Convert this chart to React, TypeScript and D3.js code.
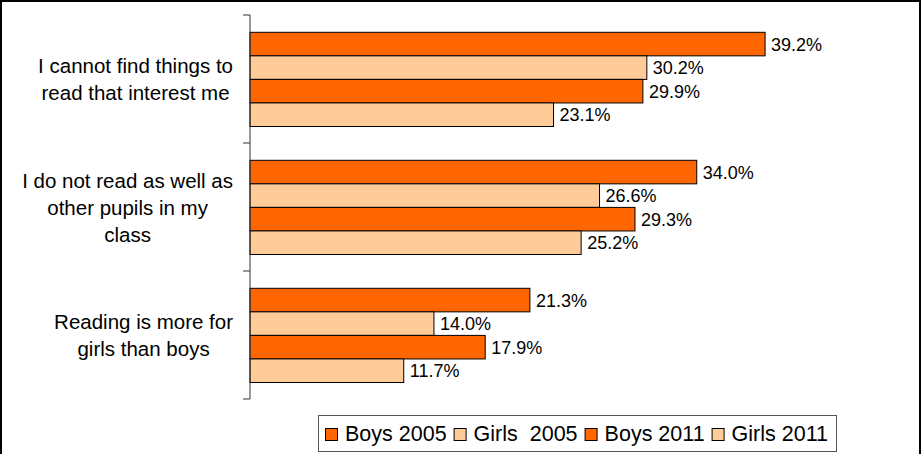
import React, { useEffect, useRef } from 'react';
import * as d3 from 'd3';

const categories = [
  ['I cannot find things to', 'read that interest me'],
  ['I do not read as well as', 'other pupils in my', 'class'],
  ['Reading is more for', 'girls than boys'],
];
const seriesNames = ['Boys 2005', 'Girls  2005', 'Boys 2011', 'Girls 2011'];
const seriesColors = ['#FF6600', '#FFCC99', '#FF6600', '#FFCC99'];
const boys2005 = [39.2, 34.0, 21.3];
const girls2005 = [30.2, 26.6, 14.0];
const boys2011 = [29.9, 29.3, 17.9];
const girls2011 = [23.1, 25.2, 11.7];

const FONT = '"Liberation Sans", Arial, Helvetica, sans-serif';

const App: React.FC = () => {
  const svgRef = useRef<SVGSVGElement>(null);

  useEffect(() => {
    if (!svgRef.current) return;
    const svg = d3.select(svgRef.current);
    svg.selectAll('*').remove();

    const width = 924;
    const height = 454;
    const values = [boys2005, girls2005, boys2011, girls2011];

    // outer frame
    svg.append('rect')
      .attr('x', 1).attr('y', 1)
      .attr('width', 919).attr('height', height + 20)
      .attr('fill', '#fff')
      .attr('stroke', '#000')
      .attr('stroke-width', 2);

    const x = d3.scaleLinear().domain([0, 50]).range([250, 907]);
    const y0 = d3.scaleBand<number>()
      .domain(d3.range(categories.length))
      .range([15, 399]);
    const y1 = d3.scaleBand<number>()
      .domain(d3.range(seriesNames.length))
      .range([17.3, 111.5]);

    // bars
    const groups = svg.append('g')
      .selectAll('g')
      .data(categories)
      .enter()
      .append('g')
      .attr('transform', (_d, i) => `translate(0,${y0(i)})`);

    groups.each(function (_d, ci) {
      const g = d3.select(this);
      values.forEach((series, si) => {
        const v = series[ci];
        g.append('rect')
          .attr('x', x(0))
          .attr('y', y1(si)!)
          .attr('width', x(v) - x(0))
          .attr('height', y1.bandwidth())
          .attr('fill', seriesColors[si])
          .attr('stroke', '#000')
          .attr('stroke-width', 1);
        g.append('text')
          .attr('x', x(v) + 6)
          .attr('y', y1(si)! + y1.bandwidth() / 2)
          .attr('dy', '0.36em')
          .attr('font-family', FONT)
          .attr('font-size', 18)
          .attr('fill', '#000')
          .text(v.toFixed(1) + '%');
      });
    });

    // axis line + ticks
    svg.append('line')
      .attr('x1', x(0)).attr('x2', x(0))
      .attr('y1', 15).attr('y2', 399)
      .attr('stroke', '#333').attr('stroke-width', 1);
    const tickYs = [...d3.range(categories.length).map(i => y0(i)!), 399];
    svg.append('g').selectAll('line')
      .data(tickYs)
      .enter()
      .append('line')
      .attr('x1', 243).attr('x2', x(0))
      .attr('y1', d => d).attr('y2', d => d)
      .attr('stroke', '#333').attr('stroke-width', 1);

    // category labels
    categories.forEach((lines, ci) => {
      const cy = y0(ci)! + y0.bandwidth() / 2;
      const g = svg.append('g');
      const texts = lines.map((line, li) =>
        g.append('text')
          .attr('y', cy - ((lines.length - 1) / 2) * 27 + 7.5 + li * 27)
          .attr('text-anchor', 'middle')
          .attr('font-family', FONT)
          .attr('font-size', 20.5)
          .attr('fill', '#000')
          .text(line)
      );
      const maxW = d3.max(texts, t => (t.node() as SVGTextElement).getComputedTextLength()) || 0;
      texts.forEach(t => t.attr('x', 233 - maxW / 2));
    });

    // legend
    const legend = svg.append('g');
    legend.append('rect')
      .attr('x', 318.5).attr('y', 415.5)
      .attr('width', 518).attr('height', 36)
      .attr('fill', '#fff')
      .attr('stroke', '#555').attr('stroke-width', 1);
    let lx = 325;
    seriesNames.forEach((name, si) => {
      legend.append('rect')
        .attr('x', lx + 0.5).attr('y', 428.5)
        .attr('width', 12).attr('height', 12)
        .attr('fill', seriesColors[si])
        .attr('stroke', '#000').attr('stroke-width', 1);
      const t = legend.append('text')
        .attr('x', lx + 20)
        .attr('y', 441)
        .attr('font-family', FONT)
        .attr('font-size', 21.5)
        .attr('fill', '#000')
        .style('white-space', 'pre')
        .text(name);
      const w = (t.node() as SVGTextElement).getComputedTextLength();
      lx = lx + 20 + w + 7;
    });

    svg.attr('width', width).attr('height', height);
  }, []);

  return (
    <div style={{ position: 'absolute', left: 0, top: 0 }}>
      <svg ref={svgRef} width={924} height={454} style={{ display: 'block' }} />
    </div>
  );
};

export default App;
